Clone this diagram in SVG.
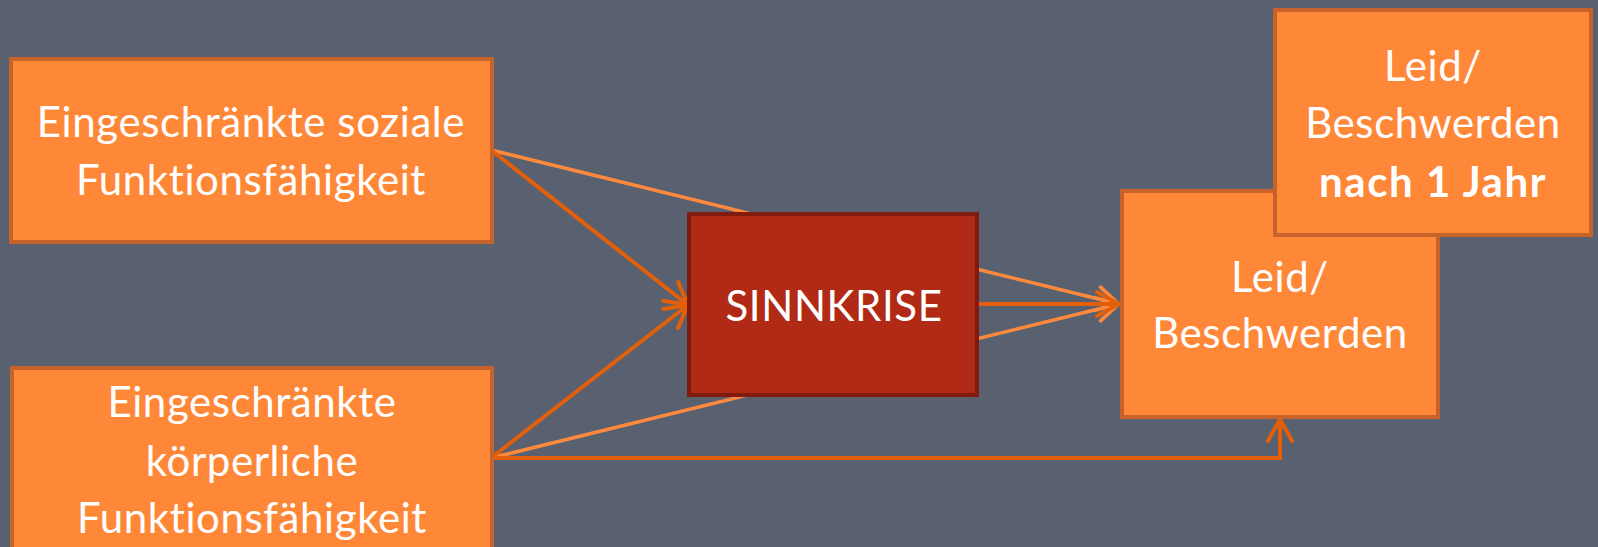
<svg xmlns="http://www.w3.org/2000/svg" width="1598" height="547" viewBox="0 0 1598 547">
<style>
.box{fill:#FF8838;stroke:#C6622A;stroke-width:4}
.core{fill:#B02A16;stroke:#801B0D;stroke-width:4}
.t{font-family:Lato,"Liberation Sans",sans-serif;font-size:42px;letter-spacing:0.6px;fill:#FFFFFF;text-anchor:middle}
.b{font-weight:bold;letter-spacing:1.6px}
.dark{fill:none;stroke:#E35F0A;stroke-width:4}
.light{fill:none;stroke:#FF8A3D;stroke-width:3.5}
</style>
<defs>
<marker id="ad" markerUnits="userSpaceOnUse" markerWidth="28" markerHeight="30" refX="25" refY="15" orient="auto" viewBox="0 0 28 30">
<path d="M3,3 L25,15 L3,27" fill="none" stroke="#E35F0A" stroke-width="4" stroke-linecap="round" stroke-linejoin="round"/>
</marker>
<marker id="al" markerUnits="userSpaceOnUse" markerWidth="28" markerHeight="30" refX="25" refY="15" orient="auto" viewBox="0 0 28 30">
<path d="M3,3 L25,15 L3,27" fill="none" stroke="#FF8A3D" stroke-width="3.5" stroke-linecap="round" stroke-linejoin="round"/>
</marker>
</defs>
<rect width="1598" height="547" fill="#596170"/>
<g id="connectors">
<line class="light" x1="491" y1="150" x2="1119" y2="304" marker-end="url(#al)"/>
<line class="light" x1="491" y1="458" x2="1119" y2="304" marker-end="url(#al)"/>
<line class="dark" x1="491" y1="150" x2="688" y2="305" marker-end="url(#ad)"/>
<line class="dark" x1="491" y1="458" x2="688" y2="305" marker-end="url(#ad)"/>
<line class="dark" x1="977" y1="304" x2="1119" y2="304" marker-end="url(#ad)"/>
<polyline class="dark" points="491,458 1280,458 1280,419" marker-end="url(#ad)"/>
</g>
<g id="node-soziale">
<rect class="box" x="11" y="59" width="481" height="183"/>
<text class="t" x="251" y="137">Eingeschränkte soziale</text>
<text class="t" x="251" y="195">Funktionsfähigkeit</text>
</g>
<g id="node-koerperliche">
<rect class="box" x="12" y="368" width="480" height="190"/>
<text class="t" x="252" y="417">Eingeschränkte</text>
<text class="t" x="252" y="476">körperliche</text>
<text class="t" x="252" y="533">Funktionsfähigkeit</text>
</g>
<g id="node-sinnkrise">
<rect class="core" x="689" y="214" width="288" height="181"/>
<text class="t" x="834" y="321">SINNKRISE</text>
</g>
<g id="node-leid">
<rect class="box" x="1122" y="191" width="316" height="226"/>
<text class="t" x="1280" y="292">Leid/</text>
<text class="t" x="1280" y="348">Beschwerden</text>
</g>
<g id="node-leid-jahr">
<rect class="box" x="1275" y="10" width="316" height="225"/>
<text class="t" x="1433" y="81">Leid/</text>
<text class="t" x="1433" y="138">Beschwerden</text>
<text class="t b" x="1433" y="197">nach 1 Jahr</text>
</g>
</svg>
